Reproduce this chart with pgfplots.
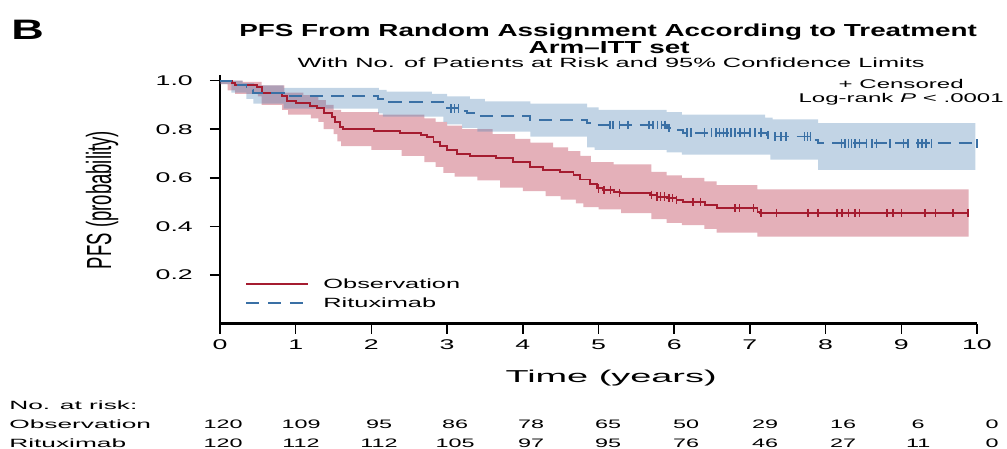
\documentclass[border=0pt]{standalone}
\usepackage{graphicx}
\usepackage{fontspec}
\setmainfont{Liberation Sans}[FakeStretch=1.9]
\newfontfamily\titlefont{Liberation Sans}[FakeStretch=1.6]
\newfontfamily\widefont{Liberation Sans}[FakeStretch=2.2]
\newfontfamily\narrowfont{Liberation Sans}
\usepackage{pgfplots}
\pgfplotsset{compat=1.18}
\usepgfplotslibrary{fillbetween}

\definecolor{obsred}{RGB}{165,28,48}
\definecolor{ritblue}{RGB}{58,112,165}
\definecolor{obsband}{RGB}{180,35,60}
\definecolor{ritband}{RGB}{75,130,180}

\begin{document}
\begin{tikzpicture}
\begin{axis}[
  at={(0,0)}, anchor=south west,
  scale only axis,
  width=15.14cm, height=4.974cm,
  xmin=0, xmax=10, ymin=0, ymax=1.023,
  axis x line=bottom, axis y line=left,
  axis line style={line width=1.7pt, -},
  xtick={0,1,2,3,4,5,6,7,8,9,10},
  ytick={0.2,0.4,0.6,0.8,1.0},
  tick align=outside,
  major tick length=0.2cm,
  tick style={line width=0.9pt, black},
  /pgf/number format/assume math mode=true,
  yticklabel style={xshift=-0.22cm, /pgf/number format/.cd, fixed, fixed zerofill, precision=1},
  ticklabel style={font=\fontsize{8pt}{9.6pt}\selectfont},
  clip=false,
]
% Observation band
\addplot[name path=obsup, const plot, draw=none, forget plot] coordinates {
(0,1.0) (0.3,0.995) (0.55,0.98) (0.85,0.95) (1.1,0.94) (1.3,0.92) (1.4,0.9)
(1.5,0.88) (1.6,0.87) (2.1,0.86) (2.7,0.845) (2.85,0.83) (3.0,0.815) (3.2,0.80)
(3.6,0.78) (3.9,0.76) (4.1,0.745) (4.4,0.725) (4.6,0.71) (4.76,0.69) (4.9,0.665)
(5.2,0.655) (5.7,0.625) (5.9,0.61) (6.1,0.6) (6.4,0.585) (6.56,0.57) (7.1,0.553)
(9.89,0.553)};
\addplot[name path=obslo, const plot, draw=none, forget plot] coordinates {
(0,0.985) (0.1,0.96) (0.2,0.945) (0.5,0.935) (0.55,0.90) (0.82,0.88) (0.9,0.86)
(1.2,0.845) (1.3,0.83) (1.37,0.80) (1.5,0.78) (1.55,0.75) (1.6,0.73) (2.0,0.715)
(2.4,0.69) (2.7,0.665) (2.85,0.645) (2.95,0.62) (3.1,0.605) (3.4,0.59) (3.7,0.56)
(4.0,0.545) (4.3,0.525) (4.5,0.51) (4.7,0.495) (4.8,0.48) (5.0,0.47) (5.3,0.455)
(5.7,0.43) (5.9,0.415) (6.1,0.405) (6.4,0.39) (6.56,0.375) (7.1,0.358) (9.89,0.358)};
\addplot[obsband, fill opacity=0.36, draw=none, forget plot] fill between[of=obsup and obslo];
% Rituximab band
\addplot[name path=ritup, const plot, draw=none, forget plot] coordinates {
(0,1.0) (0.3,0.99) (0.45,0.98) (0.84,0.97) (2.1,0.962) (2.2,0.955) (2.8,0.945)
(3.0,0.935) (3.3,0.925) (3.5,0.915) (4.1,0.905) (4.85,0.89) (5.0,0.88) (5.9,0.87)
(6.1,0.86) (7.2,0.848) (7.3,0.84) (7.9,0.825) (9.98,0.825)};
\addplot[name path=ritlo, const plot, draw=none, forget plot] coordinates {
(0,0.985) (0.15,0.95) (0.35,0.925) (0.44,0.905) (0.84,0.885) (2.09,0.865)
(2.15,0.852) (2.95,0.83) (3.0,0.82) (3.2,0.805) (3.4,0.79) (4.1,0.77) (4.85,0.725)
(4.95,0.715) (5.9,0.705) (6.1,0.695) (7.27,0.675) (7.9,0.633) (9.98,0.633)};
\addplot[ritband, fill opacity=0.34, draw=none, forget plot] fill between[of=ritup and ritlo];
% Observation curve
\addplot[const plot, obsred, line width=1.1pt] coordinates {
(0,1.0) (0.16,0.99) (0.20,0.982) (0.49,0.975) (0.55,0.949) (0.82,0.935)
(0.88,0.916) (1.01,0.907) (1.19,0.897) (1.28,0.886) (1.37,0.866) (1.48,0.852)
(1.52,0.831) (1.59,0.81) (1.63,0.800) (2.03,0.794) (2.38,0.786) (2.66,0.778)
(2.73,0.767) (2.82,0.749) (2.91,0.731) (3.00,0.715) (3.13,0.698) (3.30,0.690)
(3.65,0.682) (3.87,0.667) (4.09,0.646) (4.27,0.633) (4.49,0.623) (4.67,0.612)
(4.76,0.593) (4.89,0.573) (4.98,0.557) (5.06,0.550) (5.20,0.543) (5.28,0.537)
(5.68,0.530) (5.77,0.523) (5.90,0.516) (6.03,0.509) (6.12,0.500) (6.41,0.488)
(6.56,0.475) (7.10,0.461) (7.13,0.455) (9.89,0.455)};
\addplot[only marks, mark=|, mark size=2.4pt, obsred, mark options={line width=0.9pt}] coordinates {
(5.0,0.557) (5.07,0.55) (5.16,0.55) (5.28,0.537) (5.70,0.53) (5.77,0.523)
(5.82,0.523) (5.87,0.523) (5.93,0.516) (5.98,0.516) (6.03,0.509) (6.25,0.5)
(6.35,0.5) (6.80,0.475) (6.86,0.475) (7.05,0.475) (7.15,0.455) (7.35,0.455)
(7.77,0.455) (7.90,0.455) (8.15,0.455) (8.22,0.455) (8.30,0.455) (8.39,0.455)
(8.45,0.455) (8.81,0.455) (8.89,0.455) (9.00,0.455) (9.31,0.455) (9.45,0.455)
(9.68,0.455) (9.88,0.455)};
% Rituximab curve
\addplot[const plot, ritblue, line width=1.1pt, dash pattern=on 7.5pt off 4.5pt] coordinates {
(0,1.0) (0.15,0.982) (0.35,0.962) (0.44,0.949) (0.84,0.937) (2.09,0.923)
(2.15,0.912) (2.95,0.895) (3.0,0.886) (3.2,0.875) (3.26,0.866) (3.4,0.855)
(4.1,0.838) (4.85,0.825) (4.95,0.818) (5.9,0.805) (6.05,0.795) (6.12,0.786)
(7.22,0.776) (7.27,0.770) (7.84,0.757) (7.9,0.742) (10.0,0.742)};
\addplot[only marks, mark=|, mark size=2.4pt, ritblue, mark options={line width=0.9pt}] coordinates {
(3.05,0.886) (3.10,0.886) (3.15,0.886) (5.15,0.818) (5.19,0.818) (5.28,0.818)
(5.39,0.818) (5.67,0.818) (5.72,0.818) (5.78,0.818) (5.83,0.818) (5.88,0.818)
(5.93,0.805) (6.17,0.786) (6.22,0.786) (6.40,0.786) (6.49,0.786) (6.55,0.786)
(6.60,0.786) (6.65,0.786) (6.70,0.786) (6.75,0.786) (6.80,0.786) (6.87,0.786)
(6.93,0.786) (7.00,0.786) (7.07,0.786) (7.15,0.786) (7.24,0.776) (7.33,0.770)
(7.41,0.770) (7.48,0.770) (7.72,0.770) (7.76,0.770) (7.80,0.770) (8.21,0.742)
(8.26,0.742) (8.30,0.742) (8.34,0.742) (8.39,0.742) (8.45,0.742) (8.54,0.742)
(8.61,0.742) (8.67,0.742) (8.85,0.742) (9.03,0.742) (9.09,0.742) (9.22,0.742)
(9.27,0.742) (9.33,0.742) (9.40,0.742) (10.0,0.742)};
\end{axis}

\begin{scope}[x=0.02cm, y=-0.02cm, shift={(-4.4cm,6.474cm)}]
\node[anchor=west, inner sep=0pt, font=\titlefont\bfseries\fontsize{16pt}{18pt}\selectfont] at (11,30) {B};
\node[inner sep=0pt, font=\titlefont\bfseries\fontsize{9.9pt}{11pt}\selectfont] at (608,32) {PFS From Random Assignment According to Treatment};
\node[inner sep=0pt, font=\titlefont\bfseries\fontsize{9.9pt}{11pt}\selectfont] at (609,48) {Arm–ITT set};
\node[inner sep=0pt, font=\fontsize{7.6pt}{9pt}\selectfont] at (611,63) {With No. of Patients at Risk and 95\% Confidence Limits};
\node[inner sep=0pt, align=center, font=\fontsize{7.2pt}{8pt}\selectfont] at (901,92) {+ Censored\\Log-rank \textit{P} < .0001};
\node[rotate=90, inner sep=0pt] at (102,200) {\scalebox{0.85}[1.6]{\narrowfont\fontsize{12.4pt}{14pt}\selectfont PFS (probability)}};
\draw[obsred, line width=1.1pt] (246,284) -- (308,284);
\draw[ritblue, line width=1.1pt, dash pattern=on 7.5pt off 5pt] (246,303) -- (308,303);
\node[anchor=west, inner sep=0pt, font=\fontsize{7.6pt}{9pt}\selectfont] at (323,284) {Observation};
\node[anchor=west, inner sep=0pt, font=\fontsize{7.6pt}{9pt}\selectfont] at (323,303) {Rituximab};
\node[inner sep=0pt, font=\widefont\fontsize{9.8pt}{12pt}\selectfont] at (611,378) {Time (years)};
\node[anchor=west, inner sep=0pt, font=\widefont\fontsize{6.8pt}{8pt}\selectfont] at (9,405) {No. at risk:};
\node[anchor=west, inner sep=0pt, font=\widefont\fontsize{6.8pt}{8pt}\selectfont] at (9,424) {Observation};
\node[anchor=west, inner sep=0pt, font=\widefont\fontsize{6.8pt}{8pt}\selectfont] at (9,443) {Rituximab};
\foreach \x/\o/\r in {223/120/120, 301/109/112, 379/95/112, 455/86/105, 531/78/97,
  608/65/95, 686/50/76, 765/29/46, 843/16/27, 918/6/11, 992/0/0} {
  \node[inner sep=0pt, font=\fontsize{7pt}{8pt}\selectfont] at (\x,424) {\o};
  \node[inner sep=0pt, font=\fontsize{7pt}{8pt}\selectfont] at (\x,443) {\r};
}
\end{scope}
\pgfresetboundingbox
\path[use as bounding box] (-4.4,-2.506) rectangle (15.74,6.474);
\end{tikzpicture}
\end{document}
